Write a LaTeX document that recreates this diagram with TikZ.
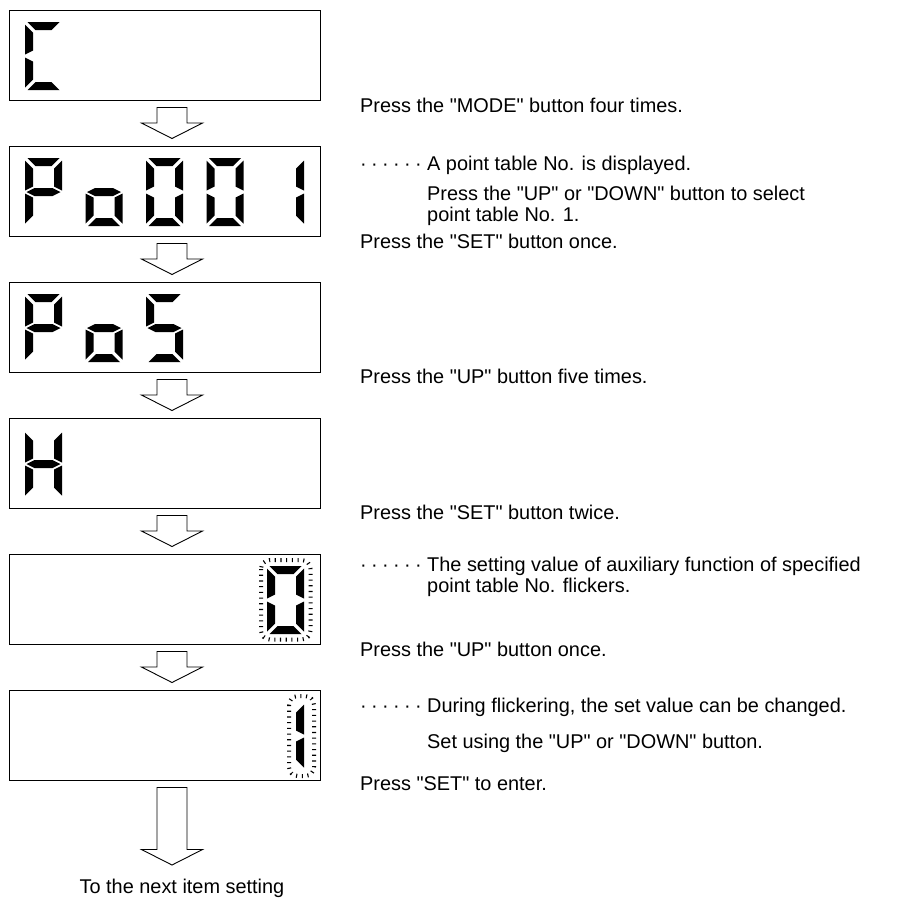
\documentclass[tikz,border=0pt]{standalone}
\usepackage{fontspec}
\setmainfont{Liberation Sans}[Ligatures=TeXOff]
\usetikzlibrary{calc}

\newcommand\dotlead{\hbox to 67pt{\xleaders\hbox to 11pt{·\hss}\hskip 66pt\hfil}}

% hollow block arrow from tail coordinate to tip coordinate
\newcommand\flowarrow[2]{%
  \draw[blockarrow] let \p1=(#1), \p2=(#2) in
    (\x1-15pt,\y1) -- (\x1+15pt,\y1) -- (\x1+15pt,\y2+15.5pt) -- (\x1+30.5pt,\y2+15.5pt)
    -- (\x1,\y2) -- (\x1-30.5pt,\y2+15.5pt) -- (\x1-15pt,\y2+15.5pt) -- cycle;}

% seven-segment digit: display, column, lit segments
\newcommand\lcddigit[3]{%
  \foreach \s in {#3}
    \pic at ($(#1.north west)+({15.5+60.5*#2},11.5)$) {seg\s};}

\tikzset{
  sega/.pic={\fill (2.5,0) -- (34.5,0) -- (26.5,8) -- (10.5,8) -- cycle;},
  segb/.pic={\fill (37,2.5) -- (29,10.5) -- (29,28.5) -- (37,32.5) -- cycle;},
  segc/.pic={\fill (37,35.5) -- (29,39.5) -- (29,57.5) -- (37,65.5) -- cycle;},
  segd/.pic={\fill (2.5,68) -- (34.5,68) -- (26.5,60) -- (10.5,60) -- cycle;},
  sege/.pic={\fill (0,35.5) -- (8,39.5) -- (8,57.5) -- (0,65.5) -- cycle;},
  segf/.pic={\fill (0,2.5) -- (8,10.5) -- (8,28.5) -- (0,32.5) -- cycle;},
  segg/.pic={\fill (1.5,34) -- (9.5,30) -- (27.5,30) -- (35.5,34) -- (27.5,38) -- (9.5,38) -- cycle;}
}

\begin{document}
\begin{tikzpicture}[
    x=1pt, y=-1pt,
    lcd/.style={draw=black, line width=1.1pt, anchor=north west, minimum width=311pt, minimum height=90pt, inner sep=0pt, outer sep=0pt},
    blockarrow/.style={draw=black, fill=white, line width=0.9pt, line join=miter},
    flicker/.style={line width=4pt, dash pattern=on 1.1pt off 4.6pt, rounded corners=9pt},
    note/.style={anchor=base west, inner sep=0pt, align=left, font=\fontsize{19.9}{20.5}\selectfont}
]
\useasboundingbox (0,0) rectangle (910,898);

% Displays
\node[lcd] (disp1) at (9.5,10.5) {};
\node[lcd] (disp2) at (9.5,146.5) {};
\node[lcd] (disp3) at (9.5,282.5) {};
\node[lcd] (disp4) at (9.5,418.5) {};
\node[lcd] (disp5) at (9.5,554.5) {};
\node[lcd] (disp6) at (9.5,690.5) {};

% Digits
\lcddigit{disp1}{0}{a,d,e,f}
\lcddigit{disp2}{0}{a,b,e,f,g}
\lcddigit{disp2}{1}{c,d,e,g}
\lcddigit{disp2}{2}{a,b,c,d,e,f}
\lcddigit{disp2}{3}{a,b,c,d,e,f}
\lcddigit{disp2}{4}{b,c}
\lcddigit{disp3}{0}{a,b,e,f,g}
\lcddigit{disp3}{1}{c,d,e,g}
\lcddigit{disp3}{2}{a,c,d,f,g}
\lcddigit{disp4}{0}{b,c,e,f,g}
\lcddigit{disp5}{4}{a,b,c,d,e,f}
\lcddigit{disp6}{4}{b,c}

% Flickering marks
\draw[flicker] ($(disp5.north west)+(251.5,5.5)$) rectangle ($(disp5.north west)+(301,85)$);
\draw[flicker] ($(disp6.north west)+(279.5,5.5)$) rectangle ($(disp6.north west)+(304.5,85.5)$);

% Arrows
\coordinate (a1) at ($(disp1.south west)+(162.5,7)$);
\coordinate (b1) at ($(disp2.north west)+(162.5,-8)$);
\coordinate (a2) at ($(disp2.south west)+(162.5,7)$);
\coordinate (b2) at ($(disp3.north west)+(162.5,-8)$);
\coordinate (a3) at ($(disp3.south west)+(162.5,7)$);
\coordinate (b3) at ($(disp4.north west)+(162.5,-8)$);
\coordinate (a4) at ($(disp4.south west)+(162.5,7)$);
\coordinate (b4) at ($(disp5.north west)+(162.5,-8)$);
\coordinate (a5) at ($(disp5.south west)+(162.5,7)$);
\coordinate (b5) at ($(disp6.north west)+(162.5,-8)$);
\coordinate (a6) at ($(disp6.south west)+(162.5,7)$);
\coordinate (b6) at ($(disp6.south west)+(162.5,84.5)$);
\flowarrow{a1}{b1}
\flowarrow{a2}{b2}
\flowarrow{a3}{b3}
\flowarrow{a4}{b4}
\flowarrow{a5}{b5}
\flowarrow{a6}{b6}

% Notes (two-line notes sit on their last baseline)
\node[note] (t1) at (360,112) {Press the "MODE" button four times.};
\node[note] (t2) at (360,170) {\dotlead A point table No. is displayed.};
\node[note] (t3) at (427,221) {Press the "UP" or "DOWN" button to select\\point table No. 1.};
\node[note] (t4) at (360,248) {Press the "SET" button once.};
\node[note] (t5) at (360,383) {Press the "UP" button five times.};
\node[note] (t6) at (360,519) {Press the "SET" button twice.};
\node[note] (t7) at (360,592) {\dotlead The setting value of auxiliary function of specified\\\hspace*{67pt}point table No. flickers.};
\node[note] (t8) at (360,656) {Press the "UP" button once.};
\node[note] (t9) at (360,712) {\dotlead During flickering, the set value can be changed.};
\node[note] (t10) at (427,748) {Set using the "UP" or "DOWN" button.};
\node[note] (t11) at (360,790) {Press "SET" to enter.};
\node[note, anchor=base] (t12) at (182,893) {To the next item setting};

\end{tikzpicture}
\end{document}
